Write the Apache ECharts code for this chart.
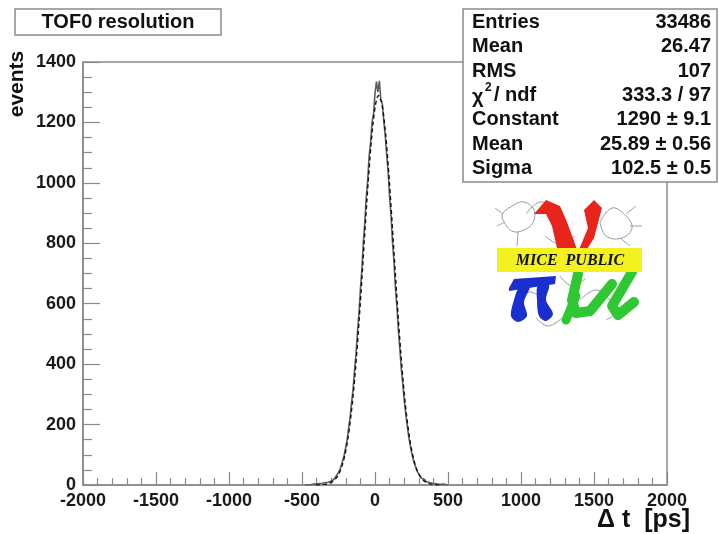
<!DOCTYPE html>
<html>
<head>
<meta charset="utf-8">
<script src="https://cdn.jsdelivr.net/npm/echarts@6/dist/echarts.min.js"></script>
<style>
  html, body { margin: 0; padding: 0; background: #fff; }
  #chart { width: 719px; height: 534px; }
</style>
</head>
<body>
<div id="chart"></div>
<script>
// TOF0 time-difference histogram, 10 ps bins starting at -480 ps
const binStart = -480;
const binWidth = 10;
const counts = [
  1, 0, 2, 1, 2, 3, 2, 4, 3, 5,
  4, 6, 5, 8, 7, 9, 11, 13, 15, 19,
  22, 27, 34, 42, 52, 66, 83, 101, 127, 152,
  190, 226, 275, 318, 380, 433, 506, 567, 648, 714,
  802, 866, 951, 1009, 1090, 1135, 1201, 1228, 1296, 1335,
  1301, 1338, 1276, 1262, 1205, 1158, 1094, 1036, 952, 889,
  803, 738, 651, 590, 512, 453, 384, 336, 282, 238,
  199, 163, 135, 109, 88, 71, 57, 45, 36, 29,
  22, 18, 14, 11, 9, 8, 6, 5, 5, 4,
  3, 3, 2, 2, 3, 1, 1, 0
];

// Gaussian fit evaluated at bin centres from -405 ps to 455 ps
const fitStart = -405;
const fitValues = [
  0.2, 0.3, 0.4, 0.6, 0.9, 1.3, 1.9, 2.6, 3.7, 5.1,
  7.0, 9.6, 13.0, 17.3, 23.0, 30.2, 39.2, 50.6, 64.5, 81.5,
  102, 126, 155, 189, 228, 272, 321, 376, 437, 502,
  571, 643, 718, 795, 871, 945, 1015, 1081, 1140, 1191,
  1233, 1263, 1283, 1290, 1285, 1268, 1239, 1199, 1150, 1092,
  1028, 958, 884, 808, 732, 657, 584, 514, 448, 387,
  331, 280, 235, 196, 161, 131, 106, 85, 67, 53,
  41, 31.7, 24.2, 18.3, 13.7, 10.1, 7.4, 5.4, 3.9, 2.8,
  2.0, 1.4, 1.0, 0.7, 0.5, 0.3, 0.2
];

// Axis ranges and tick spacing
const xRange = [-2000, 2000];
const xStep = 500;
const yRange = [0, 1400];
const yStep = 200;

// Statistics box rows
const statLabels = ['Entries', 'Mean', 'RMS', '', 'Constant', 'Mean', 'Sigma'];
const statValues = ['33486', '26.47', '107', '333.3 / 97', '1290 \u00b1 9.1', '25.89 \u00b1 0.56', '102.5 \u00b1 0.5'];

const titleText = 'TOF0 resolution';
const yTitle = 'events';
const xTitle = '\u0394 t  [ps]';

// Build step-line points: left edge of each bin, then closing right edge
const histPoints = [[binStart, 0]];
counts.forEach((c, i) => histPoints.push([binStart + i * binWidth, c]));
histPoints.push([binStart + counts.length * binWidth, 0]);

const fitPoints = fitValues.map((v, i) => [fitStart + i * binWidth, v]);

const FONT = 'Liberation Sans, Arial, sans-serif';
const SERIF = 'Liberation Serif, Times New Roman, serif';
const frameGrey = '#8a8a8a';
const plainNumber = (v) => String(v);

// Stats box text elements
const statRowY = [22, 46, 71, 95, 119, 144, 168];
const statElems = [];
statLabels.forEach((lab, i) => {
  statElems.push({
    type: 'text', z: 20,
    style: { x: 472, y: statRowY[i], text: lab, font: 'bold 20px ' + FONT, fill: '#111', textVerticalAlign: 'middle' }
  });
  statElems.push({
    type: 'text', z: 20,
    style: { x: 711, y: statRowY[i], text: statValues[i], font: 'bold 20px ' + FONT, fill: '#111', textAlign: 'right', textVerticalAlign: 'middle' }
  });
});
// chi-square label with superscript
statElems.push({ type: 'text', z: 20, style: { x: 472, y: 97, text: '\u03c7', font: 'bold 20px ' + FONT, fill: '#111', textVerticalAlign: 'middle' } });
statElems.push({ type: 'text', z: 20, style: { x: 485, y: 88, text: '2', font: 'bold 12px ' + FONT, fill: '#111', textVerticalAlign: 'middle' } });
statElems.push({ type: 'text', z: 20, style: { x: 494, y: 95, text: '/ ndf', font: 'bold 20px ' + FONT, fill: '#111', textVerticalAlign: 'middle' } });

// MICE PUBLIC logo, built from simple shapes
const sketch = '#9a9a9a';
const sk = (pts) => ({ type: 'polyline', z: 5, shape: { points: pts, smooth: 0.4 }, style: { fill: 'none', stroke: sketch, lineWidth: 1 } });
const logo = [
  // grey cartoon outlines behind the letters
  sk([[510, 230], [502, 216], [512, 206], [524, 202], [534, 210], [532, 224], [518, 232], [510, 230]]),
  sk([[503, 214], [495, 208]]), sk([[505, 222], [497, 226]]), sk([[518, 232], [517, 246]]),
  sk([[526, 214], [540, 202], [556, 208]]),
  sk([[545, 236], [560, 244], [575, 236]]),
  sk([[600, 222], [612, 208], [626, 216], [632, 228], [622, 238], [606, 236], [600, 222]]),
  sk([[626, 214], [636, 206]]), sk([[630, 226], [642, 226]]), sk([[620, 238], [630, 246]]),
  sk([[520, 300], [530, 292], [544, 300]]),
  sk([[536, 318], [548, 326], [562, 318]]),
  sk([[580, 300], [596, 290], [610, 300], [616, 312], [606, 320]]),
  sk([[560, 276], [572, 286], [586, 278]]),
  // red nu
  { type: 'polygon', z: 6, shape: { points: [[534, 214], [546, 200], [560, 206], [567, 222], [578, 252], [588, 228], [584, 210], [594, 200], [602, 208], [594, 238], [574, 270], [562, 270], [552, 226], [546, 214]] }, style: { fill: '#e8241c' } },
  // yellow band with text
  { type: 'rect', z: 7, shape: { x: 497, y: 248, width: 145, height: 24 }, style: { fill: '#f4f21e' } },
  { type: 'text', z: 8, style: { x: 570, y: 261, text: 'MICE  PUBLIC', font: 'italic bold 16px ' + SERIF, fill: '#111', textAlign: 'center', textVerticalAlign: 'middle' } },
  // blue pi
  { type: 'polygon', z: 6, shape: { points: [[509, 288], [514, 279], [556, 276], [555, 284], [509, 291]] }, style: { fill: '#1a2fd0' } },
  { type: 'polygon', z: 6, shape: { points: [[520, 286], [530, 286], [524, 302], [527, 316], [518, 322], [511, 316], [514, 300]], smooth: 0.3 }, style: { fill: '#1a2fd0' } },
  { type: 'polygon', z: 6, shape: { points: [[538, 285], [549, 285], [546, 300], [553, 314], [546, 321], [539, 316], [537, 300]], smooth: 0.3 }, style: { fill: '#1a2fd0' } },
  // green mu
  { type: 'polyline', z: 6, shape: { points: [[578, 274], [572, 300], [576, 313], [590, 311], [612, 284]] }, style: { fill: 'none', stroke: '#2fc832', lineWidth: 10, lineCap: 'round', lineJoin: 'round' } },
  { type: 'polyline', z: 6, shape: { points: [[632, 272], [612, 306], [618, 315], [634, 302]] }, style: { fill: 'none', stroke: '#2fc832', lineWidth: 10, lineCap: 'round', lineJoin: 'round' } },
  { type: 'polyline', z: 6, shape: { points: [[576, 296], [566, 320]] }, style: { fill: 'none', stroke: '#2fc832', lineWidth: 9, lineCap: 'round' } }
];

const chart = echarts.init(document.getElementById('chart'), null, { renderer: 'canvas' });

chart.setOption({
  animation: false,
  backgroundColor: '#fff',
  grid: {
    left: 83, right: 52, top: 62, bottom: 49,
    show: true, borderColor: frameGrey, borderWidth: 1.5, backgroundColor: 'transparent'
  },
  xAxis: {
    type: 'value',
    min: xRange[0], max: xRange[1], interval: xStep,
    axisLine: { show: true, onZero: false, lineStyle: { color: frameGrey, width: 1.5 } },
    axisTick: { show: true, inside: true, length: 13, lineStyle: { color: frameGrey, width: 1.2 } },
    minorTick: { show: true, splitNumber: 5, length: 7, lineStyle: { color: frameGrey, width: 1.2 } },
    axisLabel: { fontFamily: FONT, fontWeight: 'bold', fontSize: 18, color: '#1a1a1a', margin: 7, showMinLabel: true, showMaxLabel: true, formatter: plainNumber },
    splitLine: { show: false }
  },
  yAxis: {
    type: 'value',
    min: yRange[0], max: yRange[1], interval: yStep,
    axisLine: { show: true, onZero: false, lineStyle: { color: frameGrey, width: 1.5 } },
    axisTick: { show: true, inside: true, length: 17, lineStyle: { color: frameGrey, width: 1.2 } },
    minorTick: { show: true, splitNumber: 4, length: 9, lineStyle: { color: frameGrey, width: 1.2 } },
    axisLabel: { fontFamily: FONT, fontWeight: 'bold', fontSize: 18, color: '#1a1a1a', margin: 7, formatter: plainNumber },
    splitLine: { show: false }
  },
  series: [
    {
      name: 'data',
      type: 'line',
      step: 'end',
      data: histPoints,
      showSymbol: false,
      lineStyle: { color: '#5e5e5e', width: 1.6 },
      z: 3
    },
    {
      name: 'gaus',
      type: 'line',
      data: fitPoints,
      showSymbol: false,
      smooth: false,
      lineStyle: { color: '#111', width: 1.4, type: [4, 3] },
      z: 4
    }
  ],
  graphic: [
    // histogram title box
    { type: 'rect', z: 20, shape: { x: 15, y: 9, width: 206, height: 26 }, style: { fill: '#fff', stroke: frameGrey, lineWidth: 1.5 } },
    { type: 'text', z: 21, style: { x: 118, y: 22, text: titleText, font: 'bold 20px ' + FONT, fill: '#111', textAlign: 'center', textVerticalAlign: 'middle' } },
    // statistics box
    { type: 'rect', z: 19, shape: { x: 463, y: 9, width: 254, height: 173 }, style: { fill: '#fff', stroke: frameGrey, lineWidth: 1.5 } },
    ...statElems,
    // axis titles
    { type: 'text', z: 20, rotation: Math.PI / 2, x: 17, y: 84, style: { x: 0, y: 0, text: yTitle, font: 'bold 21px ' + FONT, fill: '#111', textAlign: 'center', textVerticalAlign: 'middle' } },
    { type: 'text', z: 20, style: { x: 690, y: 520, text: xTitle, font: 'bold 25px ' + FONT, fill: '#111', textAlign: 'right', textVerticalAlign: 'middle' } },
    ...logo
  ]
});
</script>
</body>
</html>
